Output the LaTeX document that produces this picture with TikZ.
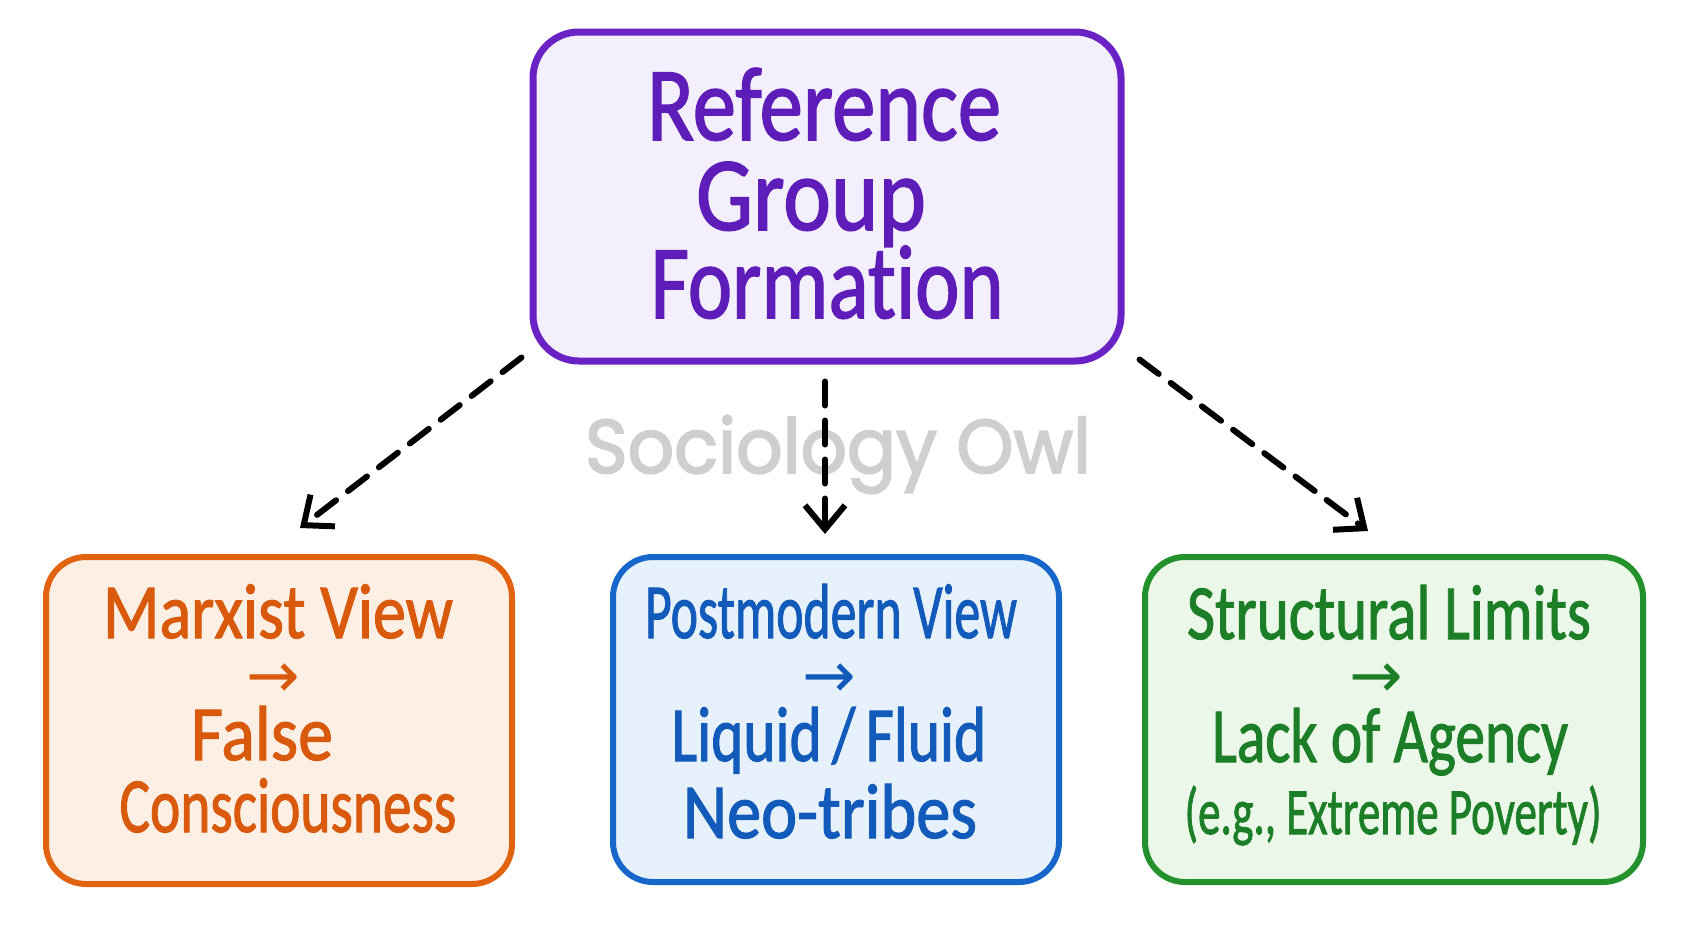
\documentclass[tikz,border=0pt]{standalone}
\usepackage{fontspec}
\usepackage{graphicx}
\setmainfont{Carlito}[Ligatures=NoCommon, FakeBold=1.5]
\newfontfamily\wmfont{Poppins}[FakeBold=2.5]
\newfontfamily\symfont{DejaVu Sans}
\usetikzlibrary{arrows.meta,calc}
\definecolor{purpB}{HTML}{6A22C4}
\definecolor{purpF}{HTML}{F4EFFC}
\definecolor{purpT}{HTML}{5E1DB8}
\definecolor{oranB}{HTML}{E2630F}
\definecolor{oranF}{HTML}{FDEFE3}
\definecolor{oranT}{HTML}{D95A0C}
\definecolor{blueB}{HTML}{1767CA}
\definecolor{blueF}{HTML}{E7F1FC}
\definecolor{blueT}{HTML}{135BBA}
\definecolor{greenB}{HTML}{23922D}
\definecolor{greenF}{HTML}{EBF7E8}
\definecolor{greenT}{HTML}{1C7F27}
\definecolor{wmgray}{HTML}{CFCFCF}
\newcommand{\fitw}[2]{\resizebox{#1pt}{\height}{#2}}
\tikzset{
  box/.style={rectangle, rounded corners=40pt, line width=6pt, inner sep=0pt},
  ttl/.style={anchor=base, inner sep=0pt, font=\fontsize{105}{105}\selectfont, text=purpT},
  ln/.style={anchor=base, inner sep=0pt, font=\fontsize{78}{78}\selectfont},
  sm/.style={anchor=base, inner sep=0pt, font=\fontsize{66}{66}\selectfont},
  arr/.style={anchor=base, inner sep=0pt, font=\symfont\fontsize{64}{64}\selectfont},
  conn/.style={line width=6pt, dash pattern=on 24pt off 15pt, line cap=round,
    -{Straight Barb[length=24pt, width=40pt, line width=6pt]}},
}
\begin{document}
\begin{tikzpicture}[x=1pt, y=-1pt]
\useasboundingbox[fill=white] (0,0) rectangle (1692,930);
% watermark
\node[anchor=base, inner sep=0pt, text=wmgray, font=\wmfont\fontsize{76}{76}\selectfont] (wm) at (838,473) {\fitw{506}{Sociology Owl}};
% boxes
\node[box, draw=purpB, fill=purpF, minimum width=588pt, minimum height=329pt, rounded corners=46pt, line width=7pt] (top) at (827,196.5) {};
\node[box, draw=oranB, fill=oranF, minimum width=466pt, minimum height=327pt] (left) at (279,720.5) {};
\node[box, draw=blueB, fill=blueF, minimum width=446pt, minimum height=325pt] (mid) at (836,719.5) {};
\node[box, draw=greenB, fill=greenF, minimum width=498pt, minimum height=325pt] (right) at (1394,719.5) {};
% title
\node[ttl] (t1) at (824,140) {\fitw{354}{Reference}};
\node[ttl] (t2) at (811,230) {\fitw{230}{Group}};
\node[ttl] (t3) at (827,318) {\fitw{353}{Formation}};
% left
\node[ln, text=oranT] (l1) at (278,638) {\fitw{350}{Marxist View}};
\node[arr, text=oranT] (l2) at (273,697) {→};
\node[ln, text=oranT] (l3) at (262,760) {\fitw{142}{False}};
\node[ln, text=oranT] (l4) at (288,832) {\fitw{337}{Consciousness}};
% middle
\node[ln, text=blueT] (m1) at (831,638) {\fitw{372}{Postmodern View}};
\node[arr, text=blueT] (m2) at (829,697) {→};
\node[ln, text=blueT] (m3) at (829,761) {\fitw{315}{Liquid\,/\,Fluid}};
\node[ln, text=blueT] (m4) at (830,838) {\fitw{294}{Neo-tribes}};
% right
\node[ln, text=greenT] (r1) at (1389,639) {\fitw{404}{Structural Limits}};
\node[arr, text=greenT] (r2) at (1376,697) {→};
\node[ln, text=greenT] (r3) at (1390,762) {\fitw{356}{Lack of Agency}};
\node[sm, text=greenT] (r4) at (1393,834) {\fitw{417}{(e.g., Extreme Poverty)}};
% connectors
\draw[conn] ($(top.south west)+(-8,-7)$) -- ($(left.north)+(21,-26)$);
\draw[conn] ($(top.south)+(-2,17)$) -- ($(mid.north)+(-11,-20)$);
\draw[conn] ($(top.south east)+(15,-5)$) -- ($(right.north)+(-26,-23)$);
\end{tikzpicture}
\end{document}
